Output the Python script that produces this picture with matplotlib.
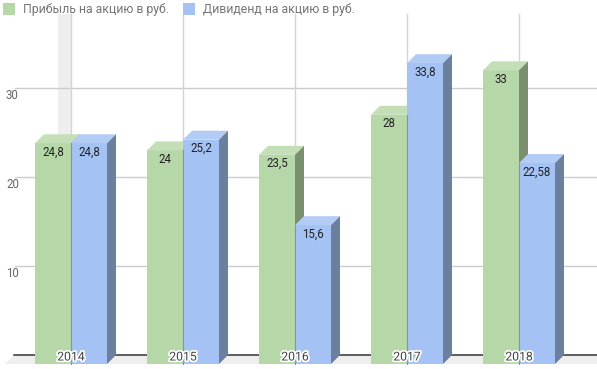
import numpy as np
import matplotlib.pyplot as plt
from matplotlib.patches import Polygon
import matplotlib.patheffects as pe

plt.rcParams['font.family'] = ['Roboto', 'DejaVu Sans']

years = ['2014', '2015', '2016', '2017', '2018']
profit = [24.8, 24, 23.5, 28, 33]
dividend = [24.8, 25.2, 15.6, 33.8, 22.58]
profit_lbl = ['24,8', '24', '23,5', '28', '33']
dividend_lbl = ['24,8', '25,2', '15,6', '33,8', '22,58']
series_names = ['Прибыль на акцию в руб.', 'Дивиденд на акцию в руб.']
yticks = [10, 20, 30]

# colors: front, top, side
green = ('#b6d7a8', '#c4dfb8', '#7a8f6f')
blue = ('#a4c2f4', '#b3ccf6', '#6b7fa0')

W, H = 597, 369
px_x = 112.0   # pixels per category
px_y = 8.9     # pixels per unit
cx0 = 71       # pixel of first category centre
zero_px = 364  # pixel row of front zero

fig = plt.figure(figsize=(W / 100, H / 100), dpi=100)
ax = fig.add_axes([0, 0, 1, 1])
ax.set_xlim(-cx0 / px_x, (W - cx0) / px_x)
ax.set_ylim(-(H - zero_px) / px_y, zero_px / px_y)
ax.axis('off')

dx = 9 / px_x
dy = 9 / px_y
bw = 36 / px_x
xl = (14 - cx0) / px_x
xr = (W - cx0) / px_x + 0.2
ytop = (zero_px - 14) / px_y

# floor
ax.add_patch(Polygon([(xl, dy), (xr, dy), (xr - dx, 0), (xl - dx, 0)],
                     closed=True, fc='#eeeeee', ec='none', zorder=1))
# grey band on the left
ax.add_patch(Polygon([(-13 / px_x, dy), (0, dy), (0, ytop), (-13 / px_x, ytop)],
                     closed=True, fc='#eeeeee', ec='none', zorder=1))
# back wall gridlines
for v in yticks:
    ax.plot([(15 - cx0) / px_x, xr], [v + dy, v + dy], color='#cccccc', lw=1, zorder=1.5)
for i in range(len(years)):
    ax.plot([i, i], [dy, ytop], color='#d4d4d4', lw=1, zorder=1.5)
ax.plot([xl, xr], [dy, dy], color='#333333', lw=1.1, zorder=1.6)

for v in yticks:
    ax.text((6 - cx0) / px_x, v + 0.2, str(v), ha='left', va='center',
            fontsize=8.3, color='#666666', zorder=5)


def bar3d(x0, h, cols, z):
    front, top, side = cols
    x1 = x0 + bw
    ax.add_patch(Polygon([(x0, 0), (x1, 0), (x1, h), (x0, h)], closed=True,
                         fc=front, ec='none', zorder=z))
    ax.add_patch(Polygon([(x0, h), (x1, h), (x1 + dx, h + dy), (x0 + dx, h + dy)],
                         closed=True, fc=top, ec='none', zorder=z))
    ax.add_patch(Polygon([(x1, 0), (x1 + dx, dy), (x1 + dx, h + dy), (x1, h)],
                         closed=True, fc=side, ec='none', zorder=z))


for i in range(len(years)):
    bar3d(i - bw, profit[i], green, 2)
    bar3d(i, dividend[i], blue, 3)
    ax.plot([i, i], [0, min(profit[i], dividend[i])], color='#8a9a80', lw=0.8, zorder=3.1)
    ax.text(i - bw / 2, profit[i] - 1.0, profit_lbl[i], ha='center', va='center',
            fontsize=8.3, color='#222222', zorder=6)
    ax.text(i + bw / 2, dividend[i] - 1.0, dividend_lbl[i], ha='center', va='center',
            fontsize=8.3, color='#222222', zorder=6)
    ax.text(i, (zero_px - 357) / px_y, years[i], ha='center', va='center',
            fontsize=8.8, color='#444444', zorder=6,
            path_effects=[pe.withStroke(linewidth=2.5, foreground='white')])

# legend
leg_x = [3, 183]
leg_cols = [green[0], blue[0]]
for lx, c, name in zip(leg_x, leg_cols, series_names):
    fig.patches.append(plt.Rectangle((lx / W, 1 - 15 / H), 12 / W, 12 / H,
                                     transform=fig.transFigure, fc=c, ec='none'))
    fig.text((lx + 20) / W, 1 - 9 / H, name, ha='left', va='center',
             fontsize=8.8, color='#757575')

fig.savefig('out.png', dpi=100)
